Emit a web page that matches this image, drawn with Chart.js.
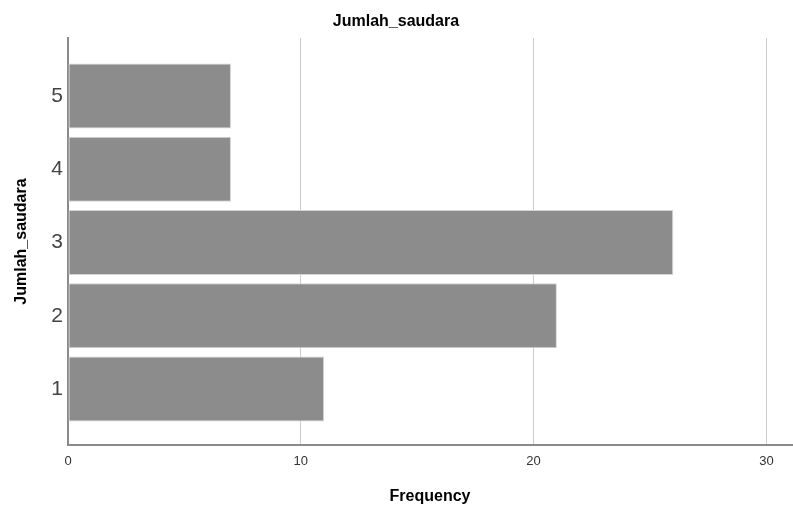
<!DOCTYPE html>
<html>
<head>
<meta charset="utf-8">
<script src="https://cdn.jsdelivr.net/npm/chart.js@4"></script>
<style>
  html, body { margin: 0; padding: 0; background: #fff; }
  #wrap { width: 793px; height: 513px; }
</style>
</head>
<body>
<div id="wrap"><canvas id="freqChart"></canvas></div>
<script>
var categories = [1, 2, 3, 4, 5];
var frequencies = [11, 21, 26, 7, 7];
var xTicks = [0, 10, 20, 30];

var points = categories.map(function (c, i) {
  return { x: frequencies[i], y: c };
});

var ctx = document.getElementById("freqChart").getContext("2d");
var chart = new Chart(ctx, {
  type: "bar",
  data: {
    datasets: [
      {
        label: "Frequency",
        data: points,
        backgroundColor: "#8c8c8c",
        borderColor: "#d4d4d4",
        borderWidth: 1,
        borderSkipped: false,
        barPercentage: 0.89,
        categoryPercentage: 1,
      },
    ],
  },
  options: {
    indexAxis: "y",
    responsive: true,
    maintainAspectRatio: false,
    animation: false,
    layout: { padding: { left: 0, right: 1, top: 0, bottom: 0 } },
    plugins: {
      legend: { display: false },
      tooltip: { enabled: false },
      title: {
        display: true,
        text: "Jumlah_saudara",
        color: "#000",
        font: { family: "Liberation Sans, Arial", size: 16, weight: "bold" },
        padding: { top: 12, bottom: 6.8 },
      },
    },
    scales: {
      x: {
        type: "linear",
        min: 0,
        max: 31.1,
        afterBuildTicks: function (scale) {
          scale.ticks = xTicks.map(function (v) { return { value: v }; });
        },
        afterFit: function (scale) { scale.height = 68; },
        grid: {
          drawTicks: false,
          color: function (c) { return c.tick && c.tick.value === 0 ? "rgba(0,0,0,0)" : "#cccccc"; },
          lineWidth: 1,
        },
        border: { display: true, color: "#8a8a8a", width: 2 },
        ticks: {
          padding: 9,
          color: "#333",
          font: { family: "Liberation Sans, Arial", size: 13 },
        },
        title: {
          display: true,
          text: "Frequency",
          color: "#000",
          font: { family: "Liberation Sans, Arial", size: 16, weight: "bold" },
          padding: { top: 0, bottom: 6.4 },
        },
      },
      y: {
        type: "linear",
        offset: false,
        min: 0.2355,
        max: 5.792,
        afterBuildTicks: function (scale) {
          scale.ticks = categories.map(function (v) { return { value: v }; });
        },
        afterFit: function (scale) { scale.width = 68; },
        grid: { display: false, drawTicks: false, offset: false },
        border: { display: true, color: "#8a8a8a", width: 2 },
        ticks: {
          padding: 5,
          color: "#444",
          font: { family: "Liberation Sans, Arial", size: 21 },
        },
        title: {
          display: true,
          text: "Jumlah_saudara",
          color: "#000",
          font: { family: "Liberation Sans, Arial", size: 16, weight: "bold" },
          padding: { top: 12.4, bottom: 0 },
        },
      },
    },
  },
});
</script>
</body>
</html>
